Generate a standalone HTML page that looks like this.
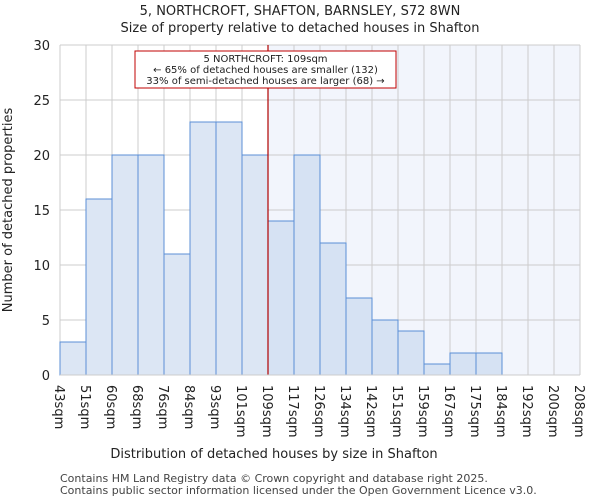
<!DOCTYPE html>
<html><head><meta charset="utf-8"><style>
body{margin:0;background:#fff;font-family:"DejaVu Sans","Liberation Sans",sans-serif;}
</style></head><body>
<svg width="600" height="500" xmlns="http://www.w3.org/2000/svg" font-family="DejaVu Sans, Liberation Sans, sans-serif">
<text x="300" y="15" text-anchor="middle" font-size="13" fill="#222">5, NORTHCROFT, SHAFTON, BARNSLEY, S72 8WN</text>
<text x="300" y="32" text-anchor="middle" font-size="13" fill="#222">Size of property relative to detached houses in Shafton</text>
<g id="plot"></g>
<text x="274" y="458" text-anchor="middle" font-size="13" fill="#222">Distribution of detached houses by size in Shafton</text>
<text transform="translate(12,210) rotate(-90)" text-anchor="middle" font-size="13" fill="#222">Number of detached properties</text>
<text x="60" y="482" font-size="11" fill="#444">Contains HM Land Registry data © Crown copyright and database right 2025.</text>
<text x="60" y="494" font-size="11" fill="#444">Contains public sector information licensed under the Open Government Licence v3.0.</text>
</svg>
<script>
const categories=["43sqm","51sqm","60sqm","68sqm","76sqm","84sqm","93sqm","101sqm","109sqm","117sqm","126sqm","134sqm","142sqm","151sqm","159sqm","167sqm","175sqm","184sqm","192sqm","200sqm","208sqm"];
const counts=[3,16,20,20,11,23,23,20,14,20,12,7,5,4,1,2,2,0,0,0];
const yTicks=[0,5,10,15,20,25,30];
const markerIndex=8;
const NS="http://www.w3.org/2000/svg";
const g=document.getElementById('plot');
const L=60,R=580,T=45,B=375,yMax=30;
const bw=(R-L)/counts.length;
const x=i=>L+i*bw;
const y=v=>B-(v/yMax)*(B-T);
function mk(t,a){const e=document.createElementNS(NS,t);for(const k in a)e.setAttribute(k,a[k]);g.appendChild(e);return e;}
let e=mk('rect',{x:x(markerIndex),y:T,width:R-x(markerIndex),height:B-T,fill:'#f2f5fc'});


yTicks.forEach(v=>{
 let l=mk('line',{x1:L,x2:R,y1:y(v),y2:y(v),stroke:'#ccc','stroke-width':1});
 
 
 let t=mk('text',{x:L-10,y:y(v)+5,'text-anchor':'end','font-size':13,fill:'#222'});
 t.textContent=v;
 
 
});
categories.forEach((c,i)=>{
 let l=mk('line',{x1:x(i),x2:x(i),y1:T,y2:B,stroke:'#ccc','stroke-width':1});
 
 
 let t=mk('text',{transform:`translate(${x(i)-5},${B+10}) rotate(90)`,'font-size':13,fill:'#222'});
 t.textContent=c;
 
 
});
counts.forEach((v,i)=>{
 if(v<=0)return;
 let r=mk('rect',{x:x(i),y:y(v),width:bw,height:B-y(v),fill:i>=markerIndex?'#d6e2f3':'#dce6f4',stroke:'#5b8fd6','stroke-width':1});
 
 
});
let ml=mk('line',{x1:x(markerIndex),x2:x(markerIndex),y1:T,y2:B,stroke:'#b00000','stroke-width':1.2});


let box=mk('rect',{x:135,y:51,width:261,height:37,fill:'#fff',stroke:'#c00000','stroke-width':1});


["5 NORTHCROFT: 109sqm","← 65% of detached houses are smaller (132)","33% of semi-detached houses are larger (68) →"].forEach((s,i)=>{
 let t=mk('text',{x:265.5,y:62+i*11,'text-anchor':'middle','font-size':10,fill:'#222'});
 t.textContent=s;
 
 
});
let ax=mk('line',{x1:L,x2:R,y1:B,y2:B,stroke:'#ccc'});


</script>
</body></html>
